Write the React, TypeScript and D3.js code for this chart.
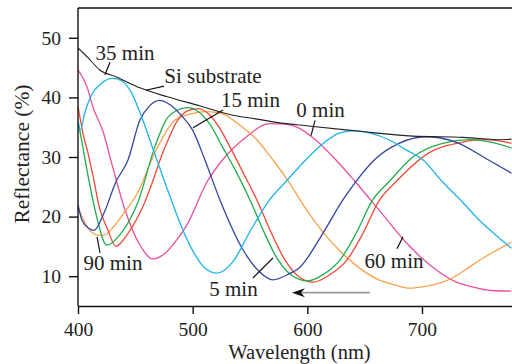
import React, { useEffect, useRef } from 'react';
import * as d3 from 'd3';

type Pt = [number, number];

// reflectance curves, [wavelength nm, reflectance %]
const siSubstrate: Pt[] = [
  [400, 48.3], [408, 46.8], [419, 44.6], [434, 43.4], [454, 41.6], [478, 40.1], [506, 38.6],
  [535, 37.0], [555, 36.4], [570, 35.9], [601, 35.2], [642, 34.4], [692, 33.5], [736, 33.3],
  [771, 32.9], [778, 33.0],
];
const cyanCurve: Pt[] = [
  [400, 36], [402, 34.5], [406, 37.5], [412, 40.5], [420, 42.3], [430, 43.2], [438, 42.8],
  [446, 41], [454, 37.5], [466, 31], [480, 23.5], [492, 17.5], [500, 14.3], [510, 11.5],
  [521, 10.5], [535, 12.4], [550, 17.5], [567, 22.8], [581, 25.8], [600, 29.8], [614, 32.3],
  [628, 34], [640, 34.4], [655, 34], [671, 32.9], [686, 31.2], [701, 29.5], [718, 25.8],
  [735, 22.5], [750, 19.4], [765, 16.8], [778, 14.7],
];
const blueCurve: Pt[] = [
  [400, 22], [403.5, 19.4], [409.6, 18], [414, 17.7], [422.7, 20.6], [433, 25.8], [443.6, 29.5],
  [454, 36.2], [462, 38.5], [471, 39.5], [480, 38.8], [490, 37], [500, 34.5], [510.7, 29.5],
  [523.8, 22.8], [544, 14.4], [558, 10.8], [570, 9.4], [582, 10.2], [593.5, 11.5], [613.6, 17.2],
  [631, 22.8], [642, 25.8], [660, 29.8], [680, 32.3], [703, 33.4], [729.5, 32.5], [758, 29.5],
  [778, 27.3],
];
const greenCurve: Pt[] = [
  [400, 36], [402, 34], [409.6, 26], [417, 19.4], [425, 15.2], [437.5, 17.2], [452, 22.3],
  [467, 31.7], [476.7, 36.2], [486, 37.8], [496, 38.3], [505, 37.6], [515, 35.5], [526, 31.7],
  [538, 27.5], [550, 22.8], [562, 17.5], [573, 13.2], [586, 10.2], [600, 9.2], [614, 10.3],
  [628.4, 12.7], [642, 17], [657, 22.8], [671, 25.8], [692, 30], [718, 32.3], [741, 32.9],
  [760, 32.5], [778, 31.5],
];
const redCurve: Pt[] = [
  [400, 38.5], [405, 33.4], [408.7, 30.7], [414, 26], [418, 22], [426, 17.8], [433, 15],
  [443.6, 17.2], [458, 22.3], [476, 31.7], [487, 36.2], [496, 37.8], [505, 38.1], [515, 37],
  [523, 35], [532.5, 31.7], [545, 27], [556, 22.8], [568, 17.5], [579, 13.2], [592, 10],
  [605, 9], [620, 10.3], [634.5, 12.7], [648, 17], [663, 22.8], [677, 25.8], [706, 30.7],
  [735.6, 32.5], [755, 32.9], [778, 32.3],
];
const orangeCurve: Pt[] = [
  [400, 21.5], [408, 18.3], [416.6, 16.9], [422.7, 16.9], [431, 18.3], [440, 20.6], [452, 24],
  [467, 30.7], [484.6, 36.2], [498, 37.2], [512, 37.6], [525, 37.3], [540, 35.5], [556, 32.9],
  [570, 29.5], [584, 25.8], [598, 21.5], [613.6, 17.4], [628, 14.3], [642, 11.9], [660, 9.6],
  [677, 8.5], [689, 8.0], [703, 8.3], [718, 9.0], [731, 10.2], [744, 11.9], [760, 13.8],
  [778, 15.7],
];
const pinkCurve: Pt[] = [
  [400, 44.6], [408, 41.7], [413, 38.4], [422, 34.2], [430, 28.5], [441, 21.1], [455, 14.9],
  [465, 12.9], [475, 13.7], [485, 15.8], [495, 18.6], [512.5, 25.8], [526, 29.5], [547, 33.4],
  [567, 35.6], [580, 35.5], [591, 35], [607, 32.9], [625, 29.5], [642, 25.8], [666, 20.3],
  [686, 15.7], [700, 13], [715, 10.7], [730, 9], [744, 8.2], [760, 7.6], [778, 7.5],
];

const curves = [pinkCurve, orangeCurve, redCurve, greenCurve, blueCurve, cyanCurve, siSubstrate];
const curveColors = ['#ec4f9b', '#f9a24c', '#ef4b35', '#20ad4e', '#34469f', '#1db4ea', '#222222'];

const xTicks = [400, 500, 600, 700];
const yTicks = [10, 20, 30, 40, 50];

// label text, label anchor [wl, R], leader line [wl1, R1, wl2, R2]
const labelTexts = ['35 min', 'Si substrate', '15 min', '0 min', '90 min', '5 min', '60 min'];
const labelAnchors: Pt[] = [
  [441, 46.3], [517.7, 42.4], [550.4, 38.4], [611.5, 36.7], [430.5, 11.0], [535.6, 6.7], [675.6, 11.4],
];
const leaders: [number, number, number, number][] = [
  [427.9, 45.9, 423.5, 43.8],
  [459.3, 41.2, 475, 41.9],
  [500.3, 34.9, 526.5, 37.9],
  [603.2, 33.6, 606.7, 36.1],
  [416.6, 16.6, 419.2, 13.9],
  [552.6, 9.7, 570, 13.05],
  [678.2, 14.6, 683.4, 16.6],
];
const shiftArrow = [654.6, 586.6, 7.23];

const App = () => {
  const ref = useRef<SVGSVGElement>(null);

  useEffect(() => {
    const width = 512;
    const height = 364;
    const margin = { top: 8, right: 0, bottom: 58, left: 78 };
    const font = '"Liberation Serif", "Times New Roman", serif';

    const svg = d3.select(ref.current);
    svg.selectAll('*').remove();

    const x = d3.scaleLinear().domain([400, 778.5]).range([margin.left, width - margin.right]);
    const y = d3.scaleLinear().domain([5, 55]).range([height - margin.bottom, margin.top]);

    const clipId = 'plot-clip';
    svg.append('clipPath').attr('id', clipId)
      .append('rect')
      .attr('x', margin.left).attr('y', margin.top)
      .attr('width', width - margin.left).attr('height', height - margin.bottom - margin.top);

    const line = d3.line<Pt>().x((d) => x(d[0])).y((d) => y(d[1])).curve(d3.curveMonotoneX);

    svg.append('g').attr('clip-path', `url(#${clipId})`)
      .selectAll('path')
      .data(curves)
      .enter()
      .append('path')
      .attr('d', (d) => line(d))
      .attr('fill', 'none')
      .attr('stroke', (d, i) => curveColors[i])
      .attr('stroke-width', (d, i) => (i === curves.length - 1 ? 1.1 : 1.3));

    // frame top
    svg.append('line')
      .attr('x1', margin.left).attr('x2', width)
      .attr('y1', margin.top).attr('y2', margin.top)
      .attr('stroke', '#111').attr('stroke-width', 1.4);

    const xAxis = d3.axisBottom(x).tickValues(xTicks).tickSize(8).tickSizeOuter(0).tickPadding(8);
    const yAxis = d3.axisLeft(y).tickValues(yTicks).tickSize(9).tickSizeOuter(0).tickPadding(8);

    const gx = svg.append('g').attr('transform', `translate(0, ${height - margin.bottom})`).call(xAxis);
    const gy = svg.append('g').attr('transform', `translate(${margin.left}, 0)`).call(yAxis);
    [gx, gy].forEach((g) => {
      g.selectAll('path, line').attr('stroke', '#111').attr('stroke-width', 1.4);
      g.selectAll('text').attr('font-family', font).attr('font-size', 19.5).attr('fill', '#222');
    });
    gy.select('.domain').attr('d', `M0,${margin.top}V${height - margin.bottom}`);

    svg.append('text')
      .text('Wavelength (nm)')
      .attr('x', 299.5).attr('y', 359)
      .attr('text-anchor', 'middle')
      .attr('font-family', font).attr('font-size', 20.5).attr('fill', '#222');

    svg.append('text')
      .text('Reflectance (%)')
      .attr('transform', 'translate(29, 154) rotate(-90)')
      .attr('text-anchor', 'middle')
      .attr('font-family', font).attr('font-size', 21.5).attr('fill', '#222');

    // annotations
    svg.selectAll('text.lbl')
      .data(labelTexts)
      .enter()
      .append('text')
      .attr('class', 'lbl')
      .text((d) => d)
      .attr('x', (d, i) => x(labelAnchors[i][0]))
      .attr('y', (d, i) => y(labelAnchors[i][1]))
      .attr('text-anchor', 'middle')
      .attr('font-family', font).attr('font-size', 21).attr('fill', '#222');

    svg.selectAll('line.leader')
      .data(leaders)
      .enter()
      .append('line')
      .attr('class', 'leader')
      .attr('x1', (d) => x(d[0])).attr('y1', (d) => y(d[1]))
      .attr('x2', (d) => x(d[2])).attr('y2', (d) => y(d[3]))
      .attr('stroke', '#111').attr('stroke-width', 1.2);

    // shift arrow
    const ax1 = x(shiftArrow[0]);
    const ax2 = x(shiftArrow[1]);
    const ay = y(shiftArrow[2]);
    svg.append('line')
      .attr('x1', ax1).attr('x2', ax2 + 8)
      .attr('y1', ay).attr('y2', ay)
      .attr('stroke', '#9a9a9a').attr('stroke-width', 1.8);
    svg.append('path')
      .attr('d', `M${ax2},${ay}L${ax2 + 13},${ay - 4.5}L${ax2 + 9},${ay}L${ax2 + 13},${ay + 4.5}Z`)
      .attr('fill', '#111');
  }, []);

  return (
    <svg
      ref={ref}
      width={512}
      height={364}
      style={{ position: 'absolute', left: 0, top: 0, background: '#fff' }}
    />
  );
};

export default App;
